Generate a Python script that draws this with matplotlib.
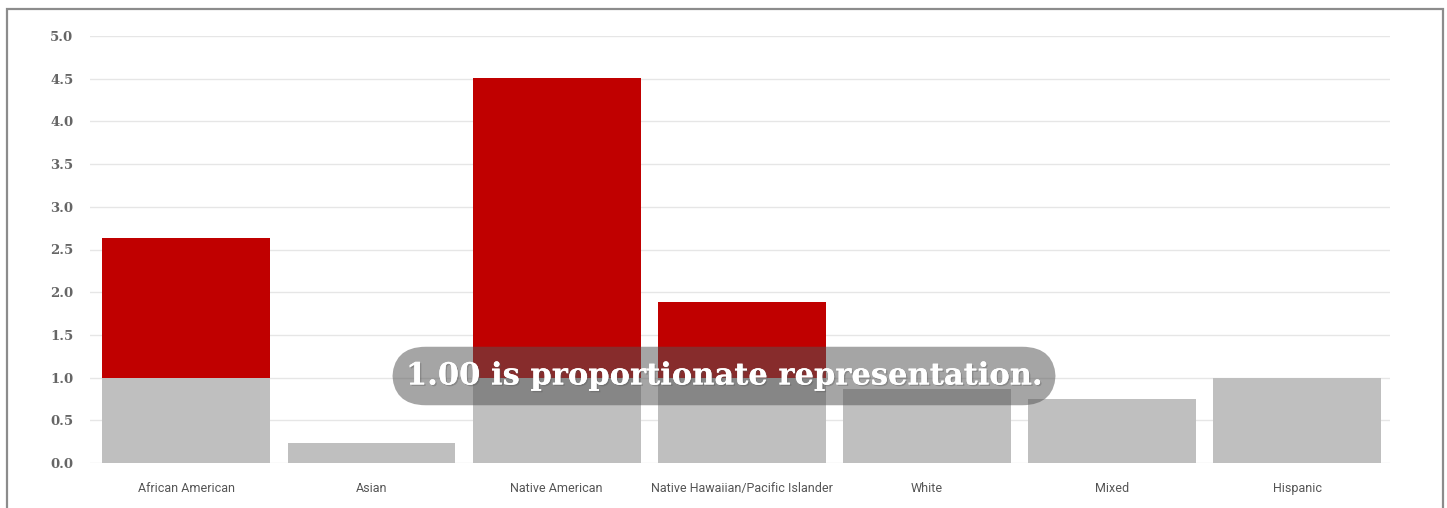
import matplotlib.pyplot as plt
import matplotlib.patheffects as pe
from matplotlib.patches import Rectangle

# Representation index by group (1.00 = proportionate)
groups = ["African American", "Asian", "Native American",
          "Native Hawaiian/Pacific Islander", "White", "Mixed", "Hispanic"]
index = [2.64, 0.23, 4.51, 1.88, 0.87, 0.75, 1.00]

base = [min(v, 1.0) for v in index]
excess = [max(v - 1.0, 0) for v in index]

fig = plt.figure(figsize=(14.47, 5.08), dpi=100)
ax = fig.add_axes([90 / 1447, 45 / 508, (1390 - 90) / 1447, (472 - 45) / 508])

x = range(len(groups))
ax.bar(x, base, width=0.907, color="#bfbfbf", zorder=2)
ax.bar(x, excess, width=0.907, bottom=base, color="#c00000", zorder=2)

ax.set_xlim(-0.52, 6.5)
ax.set_ylim(0, 5.0)
ax.set_yticks([i * 0.5 for i in range(11)])
ax.set_yticklabels([f"{i * 0.5:.1f}" for i in range(11)],
                   family="DejaVu Serif", fontweight="bold", fontsize=9.5, color="#666666")
ax.set_xticks(list(x))
ax.set_xticklabels(groups, family="Roboto", fontsize=9, color="#555555")
ax.tick_params(axis="y", length=0, pad=12)
ax.tick_params(axis="x", length=0, pad=14)

ax.grid(axis="y", color="#e6e6e6", linewidth=1, zorder=0)
for s in ax.spines.values():
    s.set_visible(False)

# outer frame around the chart
fig.patches.append(Rectangle((7 / 1447, -0.05), 1436 / 1447, (508 - 9) / 508 + 0.05,
                             transform=fig.transFigure, fill=False,
                             edgecolor="#8c8c8c", linewidth=1.6))

note = fig.text(724 / 1447, 1 - 376 / 508, "1.00 is proportionate representation.",
                ha="center", va="center", family="DejaVu Serif", fontweight="bold",
                fontsize=22, color="white", zorder=10,
                bbox=dict(boxstyle="round,pad=0.45,rounding_size=1.1",
                          facecolor="#555555", alpha=0.53, edgecolor="none"))
note.set_path_effects([pe.withSimplePatchShadow(offset=(1, -1), shadow_rgbFace="#555555", alpha=0.35),
                       pe.Normal()])

fig.savefig("out.png", dpi=100)
